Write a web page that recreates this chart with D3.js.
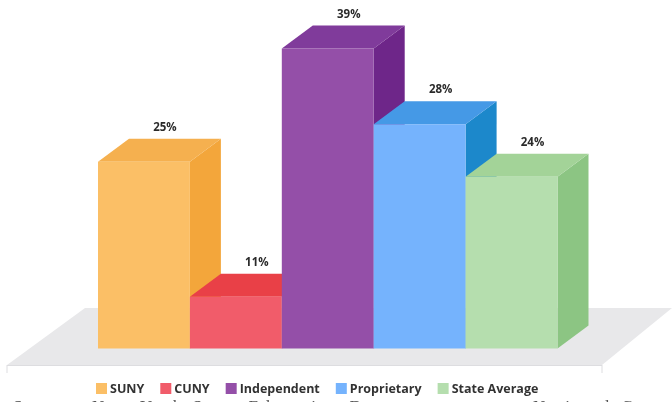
<!DOCTYPE html>
<meta charset="utf-8">
<style>
html, body { margin: 0; background: #fff; overflow: hidden; }
svg { display: block; }
.label { font: 700 11.5px "Open Sans", sans-serif; fill: #2b2b2b; text-anchor: middle; }
.legend text { font: 700 12.5px "Open Sans", sans-serif; fill: #333; }
.source { font: 400 17px "Liberation Serif", serif; fill: #555; word-spacing: 2px; letter-spacing: 2.6px; }
</style>
<svg width="672" height="402"></svg>
<script src="https://d3js.org/d3.v7.min.js"></script>
<script>

var categories = ["SUNY", "CUNY", "Independent", "Proprietary", "State Average"];
// printed labels
var labels = ["25%", "11%", "39%", "28%", "24%"];
// bar heights as drawn: the picture is not proportional to its labels (11% is far too short)
var drawnHeights = [24.9, 6.9, 40, 29.9, 22.9];

var frontColors = ["#fbbf66", "#f15b6a", "#9450a8", "#74b3fd", "#b5deae"];
var topColors = ["#f5b04f", "#e93f47", "#803a9b", "#4599e6", "#a3d398"];
var sideColors = ["#f3a63a", "#e93f47", "#6e2589", "#1c88cb", "#8cc583"];

var svg = d3.select("svg");

var x = d3.scaleBand().domain(categories).range([98, 557.5]);
var y = d3.scaleLinear().domain([0, 40]).range([348.5, 48.5]);

// 3d offset of the back face
var dx = 31, dy = -23;

svg.append("filter").attr("id", "soft")
    .append("feGaussianBlur").attr("stdDeviation", 0.45);

var chart = svg.append("g").attr("filter", "url(#soft)");

// floor
chart.append("path")
    .attr("d", "M7,365 L85,308 L672,308 L602,365 Z")
    .style("fill", "#e8e8ea");
chart.append("path")
    .attr("d", "M7,365.5 L602,365.5 M7,365 V373 M602,365 V373")
    .style("stroke", "#dddde0")
    .style("fill", "none");

var bar = chart.selectAll(".bar")
    .data(categories)
  .enter().append("g")
    .attr("class", "bar");

function poly(points) { return d3.line()(points) + "Z"; }

bar.append("path")
    .style("fill", function(d, i) { return sideColors[i]; })
    .attr("d", function(d, i) {
      var r = x(d) + x.bandwidth(), t = y(drawnHeights[i]), b = y(0);
      return poly([[r, t], [r + dx, t + dy], [r + dx, b + dy], [r, b]]);
    });

bar.append("path")
    .style("fill", function(d, i) { return topColors[i]; })
    .attr("d", function(d, i) {
      var l = x(d), r = l + x.bandwidth(), t = y(drawnHeights[i]);
      return poly([[l, t], [l + dx, t + dy], [r + dx, t + dy], [r, t]]);
    });

bar.append("rect")
    .style("fill", function(d, i) { return frontColors[i]; })
    .attr("x", function(d) { return x(d); })
    .attr("y", function(d, i) { return y(drawnHeights[i]); })
    .attr("width", x.bandwidth())
    .attr("height", function(d, i) { return y(0) - y(drawnHeights[i]); });

chart.selectAll(".label")
    .data(categories)
  .enter().append("text")
    .attr("class", "label")
    .attr("x", function(d) { return x(d) + x.bandwidth() / 2 + 21; })
    .attr("y", function(d, i) { return y(drawnHeights[i]) + dy - 8; })
    .text(function(d, i) { return labels[i]; });

// legend, flowed from the left
var legend = chart.append("g").attr("class", "legend");
var cursor = 96;
categories.forEach(function(name, i) {
  legend.append("rect")
      .attr("x", cursor)
      .attr("y", 383)
      .attr("width", 11)
      .attr("height", 11)
      .style("fill", frontColors[i]);
  var t = legend.append("text")
      .attr("x", cursor + 14)
      .attr("y", 393)
      .text(name);
  cursor += 14 + t.node().getComputedTextLength() + 16;
});

// source line, cut off by the bottom of the image like the original
chart.append("text")
    .attr("class", "source")
    .attr("x", 13)
    .attr("y", 412)
    .text("Source: New York State Education Department,");
chart.append("text")
    .attr("class", "source")
    .attr("x", 533)
    .attr("y", 412)
    .text("National Center");

</script>
